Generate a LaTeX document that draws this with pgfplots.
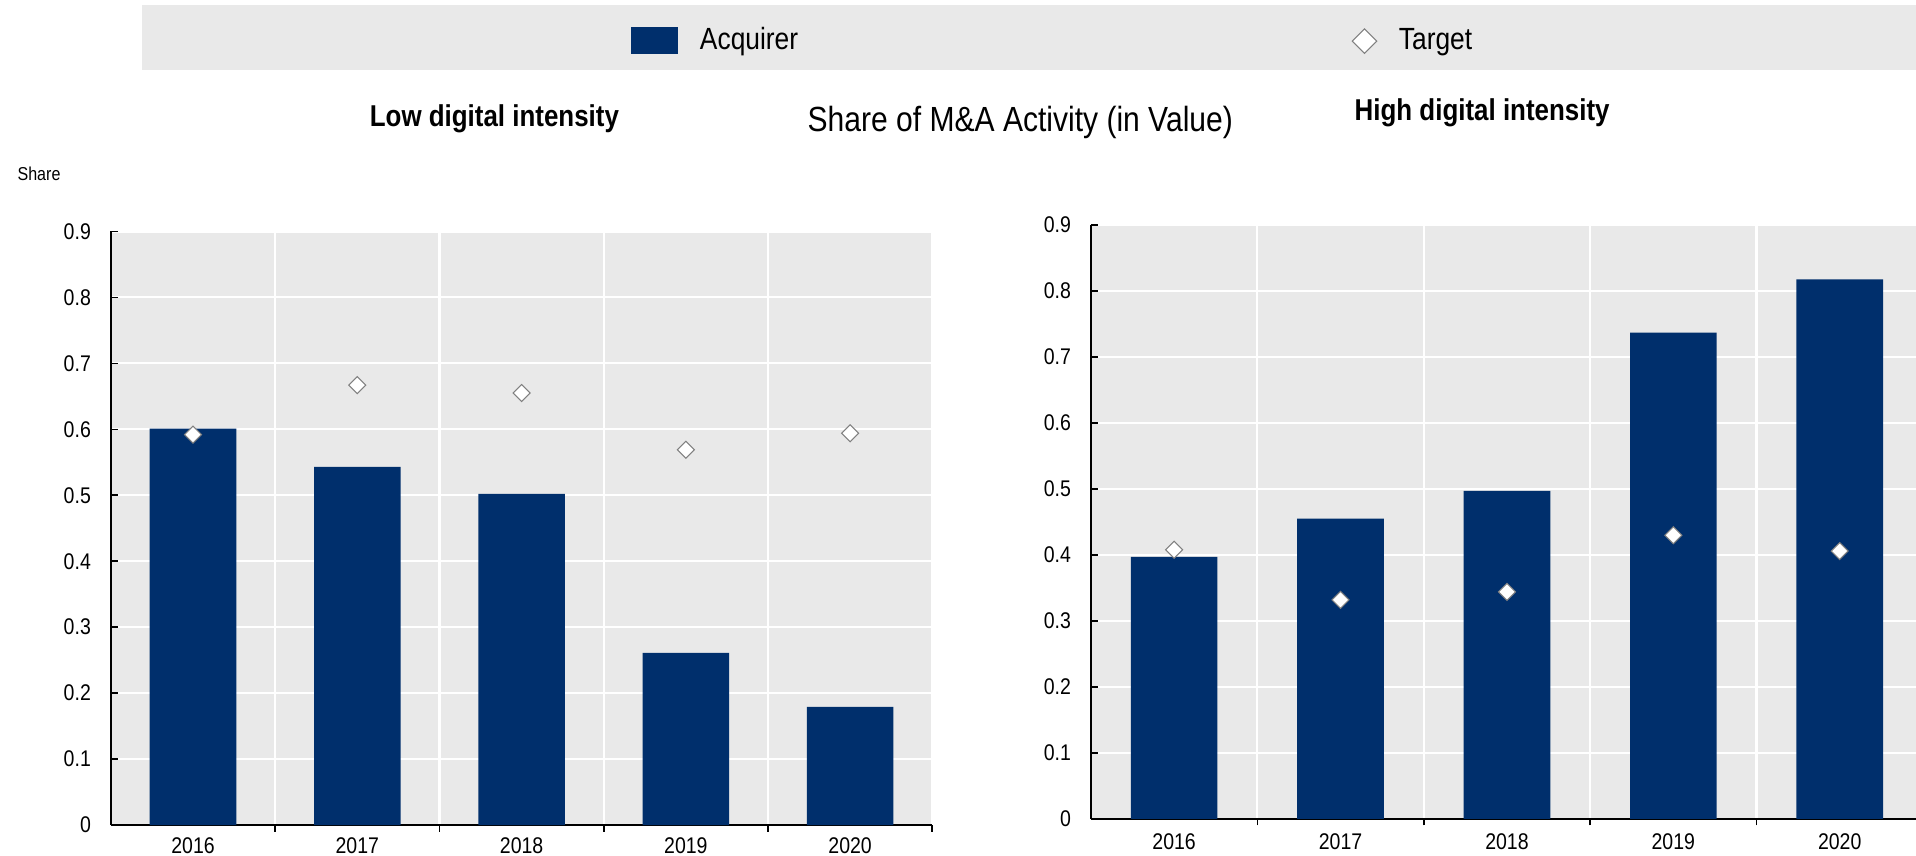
\documentclass[border=0pt]{standalone}
\usepackage{pgfplots}
\pgfplotsset{compat=1.18}
\usepackage{fontspec}
\setmainfont{Liberation Sans}[FakeStretch=0.86]
\definecolor{acq}{HTML}{002F6C}
\definecolor{bgg}{HTML}{E9E9E9}
\definecolor{mkg}{HTML}{808080}

\pgfplotstableread{
x acq tgt
0 0.601 0.592
1 0.543 0.667
2 0.502 0.655
3 0.261 0.569
4 0.179 0.594
}\lowtab
\pgfplotstableread{
x acq tgt
0 0.397 0.408
1 0.455 0.332
2 0.497 0.344
3 0.737 0.430
4 0.818 0.406
}\hightab

\pgfplotsset{
  oecd/.style={
    scale only axis, height=222.6pt,
    xmin=-0.5, xmax=4.5, ymin=0, ymax=0.9,
    enlargelimits=false,
    axis lines*=left,
    axis line style={black, line width=0.7pt},
    axis background/.style={fill=bgg},
    xtick={0,1,2,3,4}, xticklabels={2016,2017,2018,2019,2020},
    minor xtick={0.5,1.5,2.5,3.5,4.5},
    ytick={0,0.1,0.2,0.3,0.4,0.5,0.6,0.7,0.8,0.9},
    yticklabels={0,0.1,0.2,0.3,0.4,0.5,0.6,0.7,0.8,0.9},
    ymajorgrids, xminorgrids,
    major grid style={white, line width=0.8pt},
    minor grid style={white, line width=0.8pt},
    tick style={black, line width=0.6pt},
    major tick length=2.7pt, minor tick length=2.5pt,
    ytick align=inside, xtick align=outside,
    every major x tick/.append style={draw=none},
    /pgf/number format/assume math mode=true,
    ticklabel style={font=\fontsize{8.5}{10}\selectfont},
    yticklabel style={xshift=-4pt},
    legend style={draw=none, fill=none, inner sep=0pt, outer sep=0pt,
      nodes={inner sep=0pt, font=\fontsize{11.5}{13.5}\selectfont},
      column sep=8.3pt, anchor=west},
    legend cell align=left,
  },
  tgtmark/.style={only marks, mark=square*, mark size=2.25pt,
    mark options={rotate=45, fill=white, draw=mkg, line width=0.4pt}},
}

\begin{document}
\begin{tikzpicture}
\path[use as bounding box] (0pt,0pt) rectangle (718.5pt,321pt);
\fill[bgg] (53.25pt,294.75pt) rectangle (718.5pt,319.1pt);

\node[anchor=base, font=\bfseries\fontsize{11.3}{13.5}\selectfont] at (185.4pt,273.4pt) {Low digital intensity};
\node[anchor=base, font=\fontsize{13.1}{15.5}\selectfont] at (382.6pt,271.7pt) {Share of M\&A Activity (in Value)};
\node[anchor=base, font=\bfseries\fontsize{11.3}{13.5}\selectfont] at (555.8pt,275.7pt) {High digital intensity};
\node[anchor=west, inner sep=0pt, font=\fontsize{7}{8.4}\selectfont] at (6.4pt,255.9pt) {Share};

\begin{axis}[oecd, width=308pt, at={(41.6pt,11.6pt)}, anchor=south west,
  xticklabel style={yshift=1.6pt},
  legend style={at={(0.6331,1.322)}}]
\addplot[ybar, bar shift=0pt, bar width=32.5pt, fill=acq, draw=none,
  legend image code/.code={\fill[acq] (0pt,-5.05pt) rectangle (17.6pt,5.05pt);}]
  table[x=x, y=acq] {\lowtab};
\addlegendentry{Acquirer}
\addplot[tgtmark, forget plot] table[x=x, y=tgt] {\lowtab};
\end{axis}

\begin{axis}[oecd, width=312pt, at={(409.1pt,13.95pt)}, anchor=south west,
  xticklabel style={yshift=0.6pt},
  legend style={at={(0.3141,1.3102)}}]
\addplot[ybar, bar shift=0pt, bar width=32.5pt, fill=acq, draw=none, forget plot]
  table[x=x, y=acq] {\hightab};
\addplot[tgtmark,
  legend image code/.code={\draw[draw=none] plot[mark=square*, mark size=3.25pt,
     mark options={rotate=45, fill=white, draw=mkg, line width=0.4pt}] coordinates {(0pt,0pt)};}]
  table[x=x, y=tgt] {\hightab};
\addlegendentry{Target}
\end{axis}
\end{tikzpicture}
\end{document}
